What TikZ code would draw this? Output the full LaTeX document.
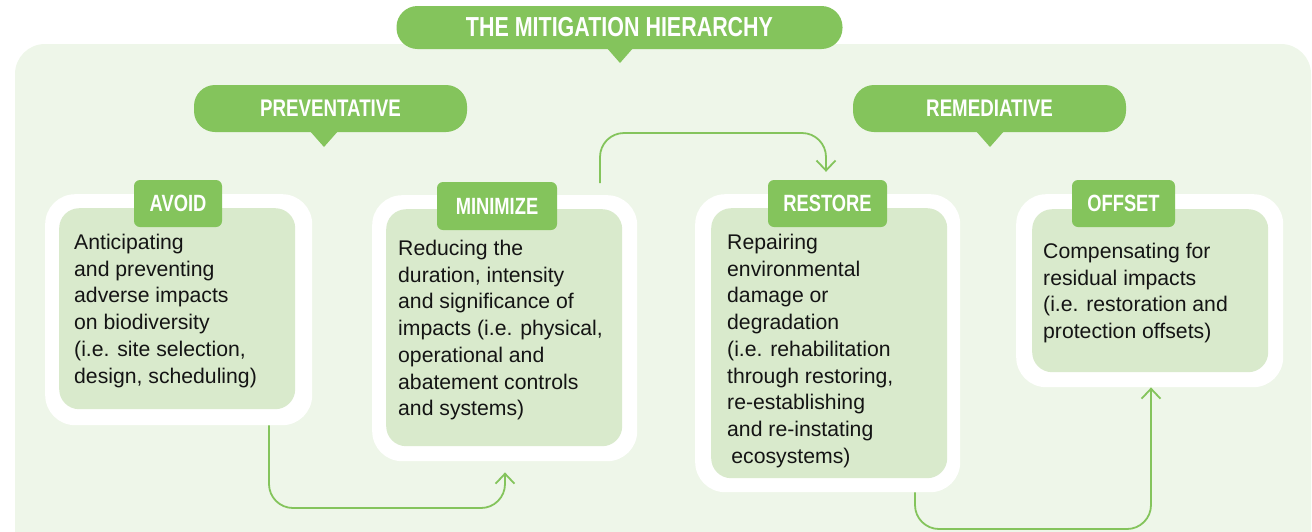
\documentclass[tikz,border=0pt]{standalone}
\usepackage{fontspec}
\setmainfont{Liberation Sans}
\newfontfamily\headfont[FakeStretch=0.78]{Liberation Sans Bold}
\usetikzlibrary{arrows.meta,calc}
\definecolor{hgreen}{RGB}{132,196,92}
\definecolor{boxgreen}{RGB}{217,234,204}
\definecolor{panel}{RGB}{238,246,233}
\definecolor{bodytext}{RGB}{20,20,20}
\tikzset{
  outerbox/.style={fill=white, rounded corners=30pt, anchor=north west, inner sep=0pt},
  innerbox/.style={fill=boxgreen, rounded corners=20pt, anchor=north west, inner sep=0pt},
  tagbox/.style={fill=hgreen, rounded corners=6pt, text=white, font=\headfont\fontsize{23.5}{23.5}\selectfont, inner sep=0pt},
  pill/.style={fill=hgreen, rounded corners=21pt, text=white, inner sep=0pt},
  bodytxt/.style={anchor=north west, align=left, inner sep=0pt, text=bodytext, font=\fontsize{21.2}{26.7}\selectfont},
  conn/.style={draw=hgreen, line width=1.8pt, rounded corners=24pt, -{Straight Barb[length=10pt,width=19pt,line width=1.8pt]}},
}
\begin{document}
\begin{tikzpicture}[x=1pt,y=-1pt]
\useasboundingbox (0,0) rectangle (1312,531);
\clip (0,0) rectangle (1312,531);
% panel
\fill[panel, rounded corners=30pt] (15,44) rectangle (1311,600);

% title pill
\fill[hgreen] (606,47) -- (620,63) -- (634,47) -- cycle;
\node[pill, minimum width=446pt, minimum height=43pt, font=\headfont\fontsize{27.5}{27.5}\selectfont] (title) at (619.5,27.5) {THE MITIGATION HIERARCHY};

% preventative
\fill[hgreen] (309,130) -- (324,147) -- (339,130) -- cycle;
\node[pill, minimum width=273pt, minimum height=47pt, font=\headfont\fontsize{24}{24}\selectfont] (prev) at (330.5,108.5) {PREVENTATIVE};
% remediative
\fill[hgreen] (975,130) -- (990,147) -- (1005,130) -- cycle;
\node[pill, minimum width=273pt, minimum height=47pt, font=\headfont\fontsize{24}{24}\selectfont] (rem) at (989.5,108.5) {REMEDIATIVE};

% AVOID
\node[outerbox, minimum width=267pt, minimum height=231pt] (avoidout) at (45,194) {};
\node[innerbox, minimum width=236pt, minimum height=201pt] (avoidin) at (59,208) {};
\node[tagbox, minimum width=88pt, minimum height=47pt] (avoidtag) at (178,203.5) {AVOID};
\node[bodytxt] (avoidtxt) at (74,234) {Anticipating\\and preventing\\adverse impacts\\on biodiversity\\(i.e. site selection,\\design, scheduling)};

% MINIMIZE
\node[outerbox, minimum width=265pt, minimum height=266pt] (minout) at (372,195) {};
\node[innerbox, minimum width=236pt, minimum height=237pt] (minin) at (386,209) {};
\node[tagbox, minimum width=120pt, minimum height=48pt] (mintag) at (497,206) {MINIMIZE};
\node[bodytxt] (mintxt) at (398,240) {Reducing the\\duration, intensity\\and significance of\\impacts (i.e. physical,\\operational and\\abatement controls\\and systems)};

% RESTORE
\node[outerbox, minimum width=265pt, minimum height=298pt] (resout) at (695,194) {};
\node[innerbox, minimum width=236pt, minimum height=270pt] (resin) at (711,208) {};
\node[tagbox, minimum width=119pt, minimum height=47pt] (restag) at (827.5,203.5) {RESTORE};
\node[bodytxt] (restxt) at (727,234) {Repairing\\environmental\\damage or\\degradation\\(i.e. rehabilitation\\through restoring,\\re-establishing\\and re-instating\\\hspace{0.2em}ecosystems)};

% OFFSET
\node[outerbox, minimum width=267pt, minimum height=193pt] (offout) at (1016,194) {};
\node[innerbox, minimum width=236pt, minimum height=163pt] (offin) at (1032,209) {};
\node[tagbox, minimum width=103pt, minimum height=47pt] (offtag) at (1123.5,203.5) {OFFSET};
\node[bodytxt] (offtxt) at (1043,243) {Compensating for\\residual impacts\\(i.e. restoration and\\protection offsets)};

% connectors
\coordinate (c1) at (269,508);
\coordinate (c2) at (505,508);
\draw[conn] (avoidout.south -| c1) -- (c1) -- (c2) -- ($(minout.south -| c2)+(0,11)$);
\coordinate (c3) at (600,133);
\coordinate (c4) at (826,133);
\draw[conn] ($(minout.north -| c3)+(0,-12)$) -- (c3) -- (c4) -- ($(restag.north -| c4)+(0,-8)$);
\coordinate (c5) at (915,529);
\coordinate (c6) at (1151,529);
\draw[conn] (resout.south -| c5) -- (c5) -- (c6) -- (offout.south -| c6);
\end{tikzpicture}
\end{document}
